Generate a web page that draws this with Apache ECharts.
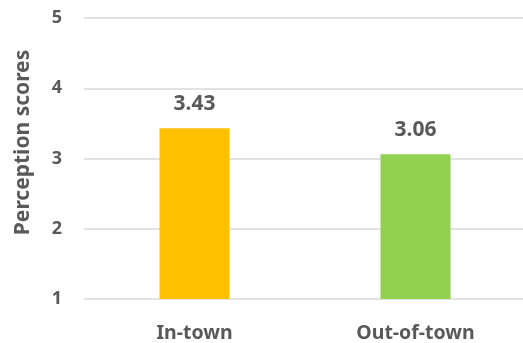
<!DOCTYPE html>
<html>
<head>
<meta charset="utf-8">
<style>
  html, body { margin: 0; padding: 0; background: #fff; overflow: hidden; }
  #chart { width: 530px; height: 343px; }
</style>
<script src="https://cdn.jsdelivr.net/npm/echarts@6/dist/echarts.min.js"></script>
</head>
<body>
<div id="chart"></div>
<script>
// Mean perception scores by location
const categories = ['In-town', 'Out-of-town'];
const scores = [3.43, 3.06];
const barColors = ['#FFC000', '#92D050'];
const yTicks = [1, 2, 3, 4, 5];

const textColor = '#595959';
const fontFamily = '"Noto Sans", "DejaVu Sans", sans-serif';

const chart = echarts.init(document.getElementById('chart'));
chart.setOption({
  animation: false,
  textStyle: { fontFamily: fontFamily },
  grid: { left: 84, top: 18, width: 442, bottom: 44, containLabel: false },
  xAxis: {
    type: 'category',
    data: categories,
    axisLine: { show: false },
    axisTick: { show: false },
    axisLabel: {
      color: textColor, fontSize: 19.5, fontWeight: 700,
      fontFamily: fontFamily, margin: 24
    }
  },
  yAxis: {
    type: 'value',
    min: yTicks[0],
    max: yTicks[yTicks.length - 1],
    interval: 1,
    name: 'Perception scores',
    nameLocation: 'middle',
    nameGap: 50,
    nameRotate: 90,
    nameTextStyle: {
      color: textColor, fontSize: 21, fontWeight: 700, fontFamily: fontFamily,
      padding: [0, 0, 0, 32]
    },
    axisLine: { show: false },
    axisTick: { show: false },
    axisLabel: { color: textColor, fontSize: 18, fontWeight: 700, fontFamily: fontFamily, margin: 22 },
    splitLine: { lineStyle: { color: '#D9D9D9', width: 1.5 } }
  },
  series: [{
    type: 'bar',
    barWidth: 70,
    data: scores.map((v, i) => ({ value: v, itemStyle: { color: barColors[i] } })),
    label: {
      show: true,
      position: 'top',
      distance: 14,
      color: textColor,
      fontSize: 21,
      fontWeight: 700,
      fontFamily: fontFamily,
      formatter: p => p.value.toFixed(2)
    }
  }]
});
</script>
</body>
</html>
